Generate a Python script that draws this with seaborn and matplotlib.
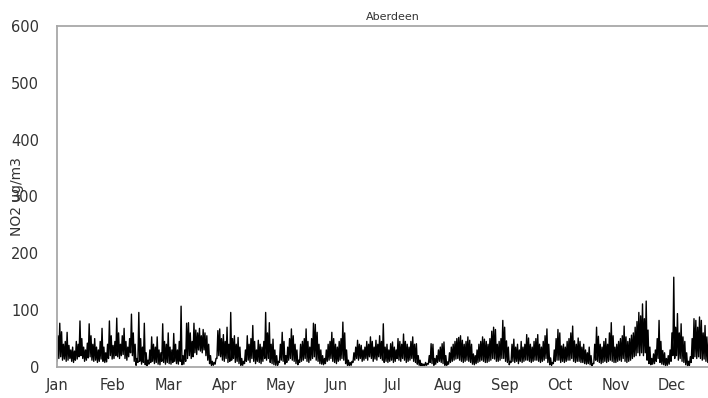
import numpy as np
import pandas as pd
import seaborn as sns
import matplotlib.pyplot as plt

# daily high / low NO2 (ug/m3), one list per calendar month
jan_hi = [55, 77, 62, 40, 45, 61, 38, 30, 35, 28, 45, 40, 81, 50, 35, 30, 42, 76, 55, 40, 50, 35, 30, 45, 68, 35, 25, 40, 81, 55, 38]
jan_lo = [10, 15, 18, 12, 14, 10, 12, 15, 10, 8, 12, 14, 18, 20, 15, 10, 12, 16, 18, 12, 10, 12, 8, 10, 14, 10, 8, 9, 15, 20, 14]
feb_hi = [45, 86, 60, 40, 55, 68, 45, 35, 50, 93, 60, 40, 15, 96, 50, 35, 77, 25, 12, 30, 53, 40, 35, 53, 30, 25, 76, 45]
feb_lo = [15, 20, 18, 15, 20, 22, 15, 12, 18, 25, 20, 10, 3, 8, 10, 5, 8, 4, 2, 5, 8, 10, 6, 8, 5, 4, 10, 8]
mar_hi = [40, 60, 35, 30, 59, 40, 30, 45, 107, 20, 30, 77, 78, 60, 45, 77, 65, 60, 68, 55, 66, 60, 55, 40, 20, 10, 8, 15, 64, 67, 50]
mar_lo = [5, 8, 6, 5, 8, 10, 6, 5, 10, 4, 5, 10, 15, 20, 15, 18, 25, 22, 30, 28, 25, 30, 20, 12, 6, 3, 3, 5, 15, 20, 18]
apr_hi = [57, 45, 70, 40, 96, 50, 55, 40, 52, 35, 15, 10, 30, 55, 40, 50, 73, 45, 30, 47, 40, 35, 45, 96, 60, 78, 40, 49, 30, 20]
apr_lo = [12, 10, 15, 8, 10, 12, 15, 8, 10, 6, 3, 3, 6, 10, 12, 8, 15, 10, 6, 10, 8, 6, 10, 15, 12, 15, 8, 6, 4, 3]
may_hi = [10, 40, 61, 45, 20, 35, 50, 67, 55, 40, 30, 12, 40, 45, 50, 67, 45, 35, 50, 77, 75, 61, 40, 30, 20, 15, 30, 40, 45, 61, 50]
may_lo = [3, 8, 12, 10, 5, 8, 12, 15, 12, 10, 6, 4, 8, 10, 12, 15, 10, 8, 12, 15, 18, 12, 10, 6, 5, 4, 6, 10, 12, 15, 10]
jun_hi = [40, 35, 45, 50, 79, 60, 30, 12, 8, 10, 25, 35, 47, 40, 38, 30, 35, 45, 40, 53, 45, 35, 47, 40, 55, 45, 76, 35, 40, 30]
jun_lo = [8, 6, 10, 12, 15, 12, 6, 3, 2, 3, 8, 12, 15, 12, 15, 10, 12, 15, 12, 18, 15, 10, 14, 12, 18, 15, 12, 8, 10, 8]
jul_hi = [41, 44, 35, 30, 50, 45, 40, 58, 45, 40, 35, 45, 53, 40, 41, 20, 12, 6, 5, 8, 6, 20, 41, 40, 15, 20, 30, 35, 41, 44, 20]
jul_lo = [10, 12, 8, 10, 15, 12, 10, 15, 12, 8, 10, 12, 15, 10, 8, 5, 3, 2, 2, 2, 3, 5, 8, 6, 3, 5, 8, 10, 8, 6, 3]
aug_hi = [9, 25, 35, 40, 45, 50, 52, 55, 47, 40, 45, 53, 47, 40, 23, 20, 30, 40, 45, 53, 49, 45, 40, 50, 63, 70, 66, 40, 45, 50, 82]
aug_lo = [3, 5, 8, 10, 12, 14, 15, 12, 10, 8, 10, 12, 10, 8, 5, 4, 6, 8, 10, 12, 10, 8, 8, 10, 12, 15, 14, 10, 10, 12, 15]
sep_hi = [70, 46, 35, 10, 40, 49, 35, 40, 30, 45, 35, 40, 57, 51, 40, 35, 45, 50, 57, 40, 35, 45, 55, 67, 40, 16, 8, 30, 50, 66]
sep_lo = [15, 10, 8, 4, 8, 10, 8, 10, 6, 10, 8, 10, 12, 12, 10, 8, 10, 12, 12, 10, 8, 10, 12, 15, 8, 4, 3, 6, 10, 12]
oct_hi = [60, 37, 40, 35, 45, 50, 60, 72, 46, 40, 51, 45, 35, 40, 30, 25, 35, 20, 6, 40, 70, 54, 40, 35, 45, 50, 40, 60, 78, 55, 35]
oct_lo = [12, 8, 10, 8, 10, 12, 12, 15, 10, 8, 10, 10, 8, 8, 6, 5, 6, 4, 2, 6, 12, 10, 8, 6, 8, 10, 8, 10, 12, 10, 8]
nov_hi = [40, 45, 50, 55, 72, 53, 45, 50, 56, 60, 70, 80, 96, 90, 111, 85, 116, 65, 35, 15, 23, 30, 50, 82, 45, 29, 25, 15, 20, 30]
nov_lo = [8, 10, 12, 10, 15, 10, 8, 10, 12, 15, 18, 20, 25, 20, 25, 20, 25, 12, 6, 4, 5, 6, 10, 15, 8, 5, 4, 2, 3, 5]
dec_hi = [60, 158, 70, 94, 60, 76, 53, 45, 25, 10, 18, 50, 85, 82, 70, 88, 82, 60, 73, 53, 45, 50, 60, 45, 40, 50, 45, 40, 35, 40, 35]
dec_lo = [10, 20, 15, 20, 12, 15, 10, 8, 4, 2, 3, 8, 15, 18, 15, 18, 15, 12, 14, 10, 8, 10, 12, 8, 8, 10, 8, 8, 6, 8, 6]

months = ['Jan', 'Feb', 'Mar', 'Apr', 'May', 'Jun', 'Jul', 'Aug', 'Sep', 'Oct', 'Nov', 'Dec']

highs = jan_hi + feb_hi + mar_hi + apr_hi + may_hi + jun_hi + jul_hi + aug_hi + sep_hi + oct_hi + nov_hi + dec_hi
lows = jan_lo + feb_lo + mar_lo + apr_lo + may_lo + jun_lo + jul_lo + aug_lo + sep_lo + oct_lo + nov_lo + dec_lo

days = np.arange(len(highs))
df = pd.DataFrame({
    'day': np.column_stack([days, days + 0.5]).ravel(),
    'no2': np.column_stack([lows, highs]).ravel(),
})

sns.set_style('white')
plt.rcParams['font.family'] = ['DejaVu Sans']

fig = plt.figure(figsize=(7.08, 3.98), dpi=100)
# the chart runs past the right edge of the picture, as in the original
ax = fig.add_axes([57 / 708, 31 / 398, 671 / 708, 341 / 398])

sns.lineplot(data=df, x='day', y='no2', ax=ax, color='black', linewidth=1.0, sort=False)

ax.set_xlim(0, 365)
ax.set_ylim(0, 600)
ax.set_yticks(range(0, 601, 100))
ax.set_xticks(np.arange(12) * 365 / 12)
ax.set_xticklabels(months)

grey = '#a8a8a8'
for side in ['left', 'bottom', 'top']:
    ax.spines[side].set_color(grey)
    ax.spines[side].set_linewidth(1.3)
ax.spines['right'].set_visible(False)

ax.tick_params(axis='both', colors=grey, labelcolor='#333333', labelsize=10.5,
               length=4, width=1.2, direction='out')
ax.tick_params(axis='x', pad=4)
ax.tick_params(axis='y', pad=9)

ax.set_xlabel('')
ax.set_ylabel('NO2 ug/m3', fontsize=10, color='#333333')
ax.yaxis.set_label_coords(-0.049, 0.5)
ax.set_title('Aberdeen', fontsize=8, color='#333333', pad=4)

fig.savefig('out.png', dpi=100)
